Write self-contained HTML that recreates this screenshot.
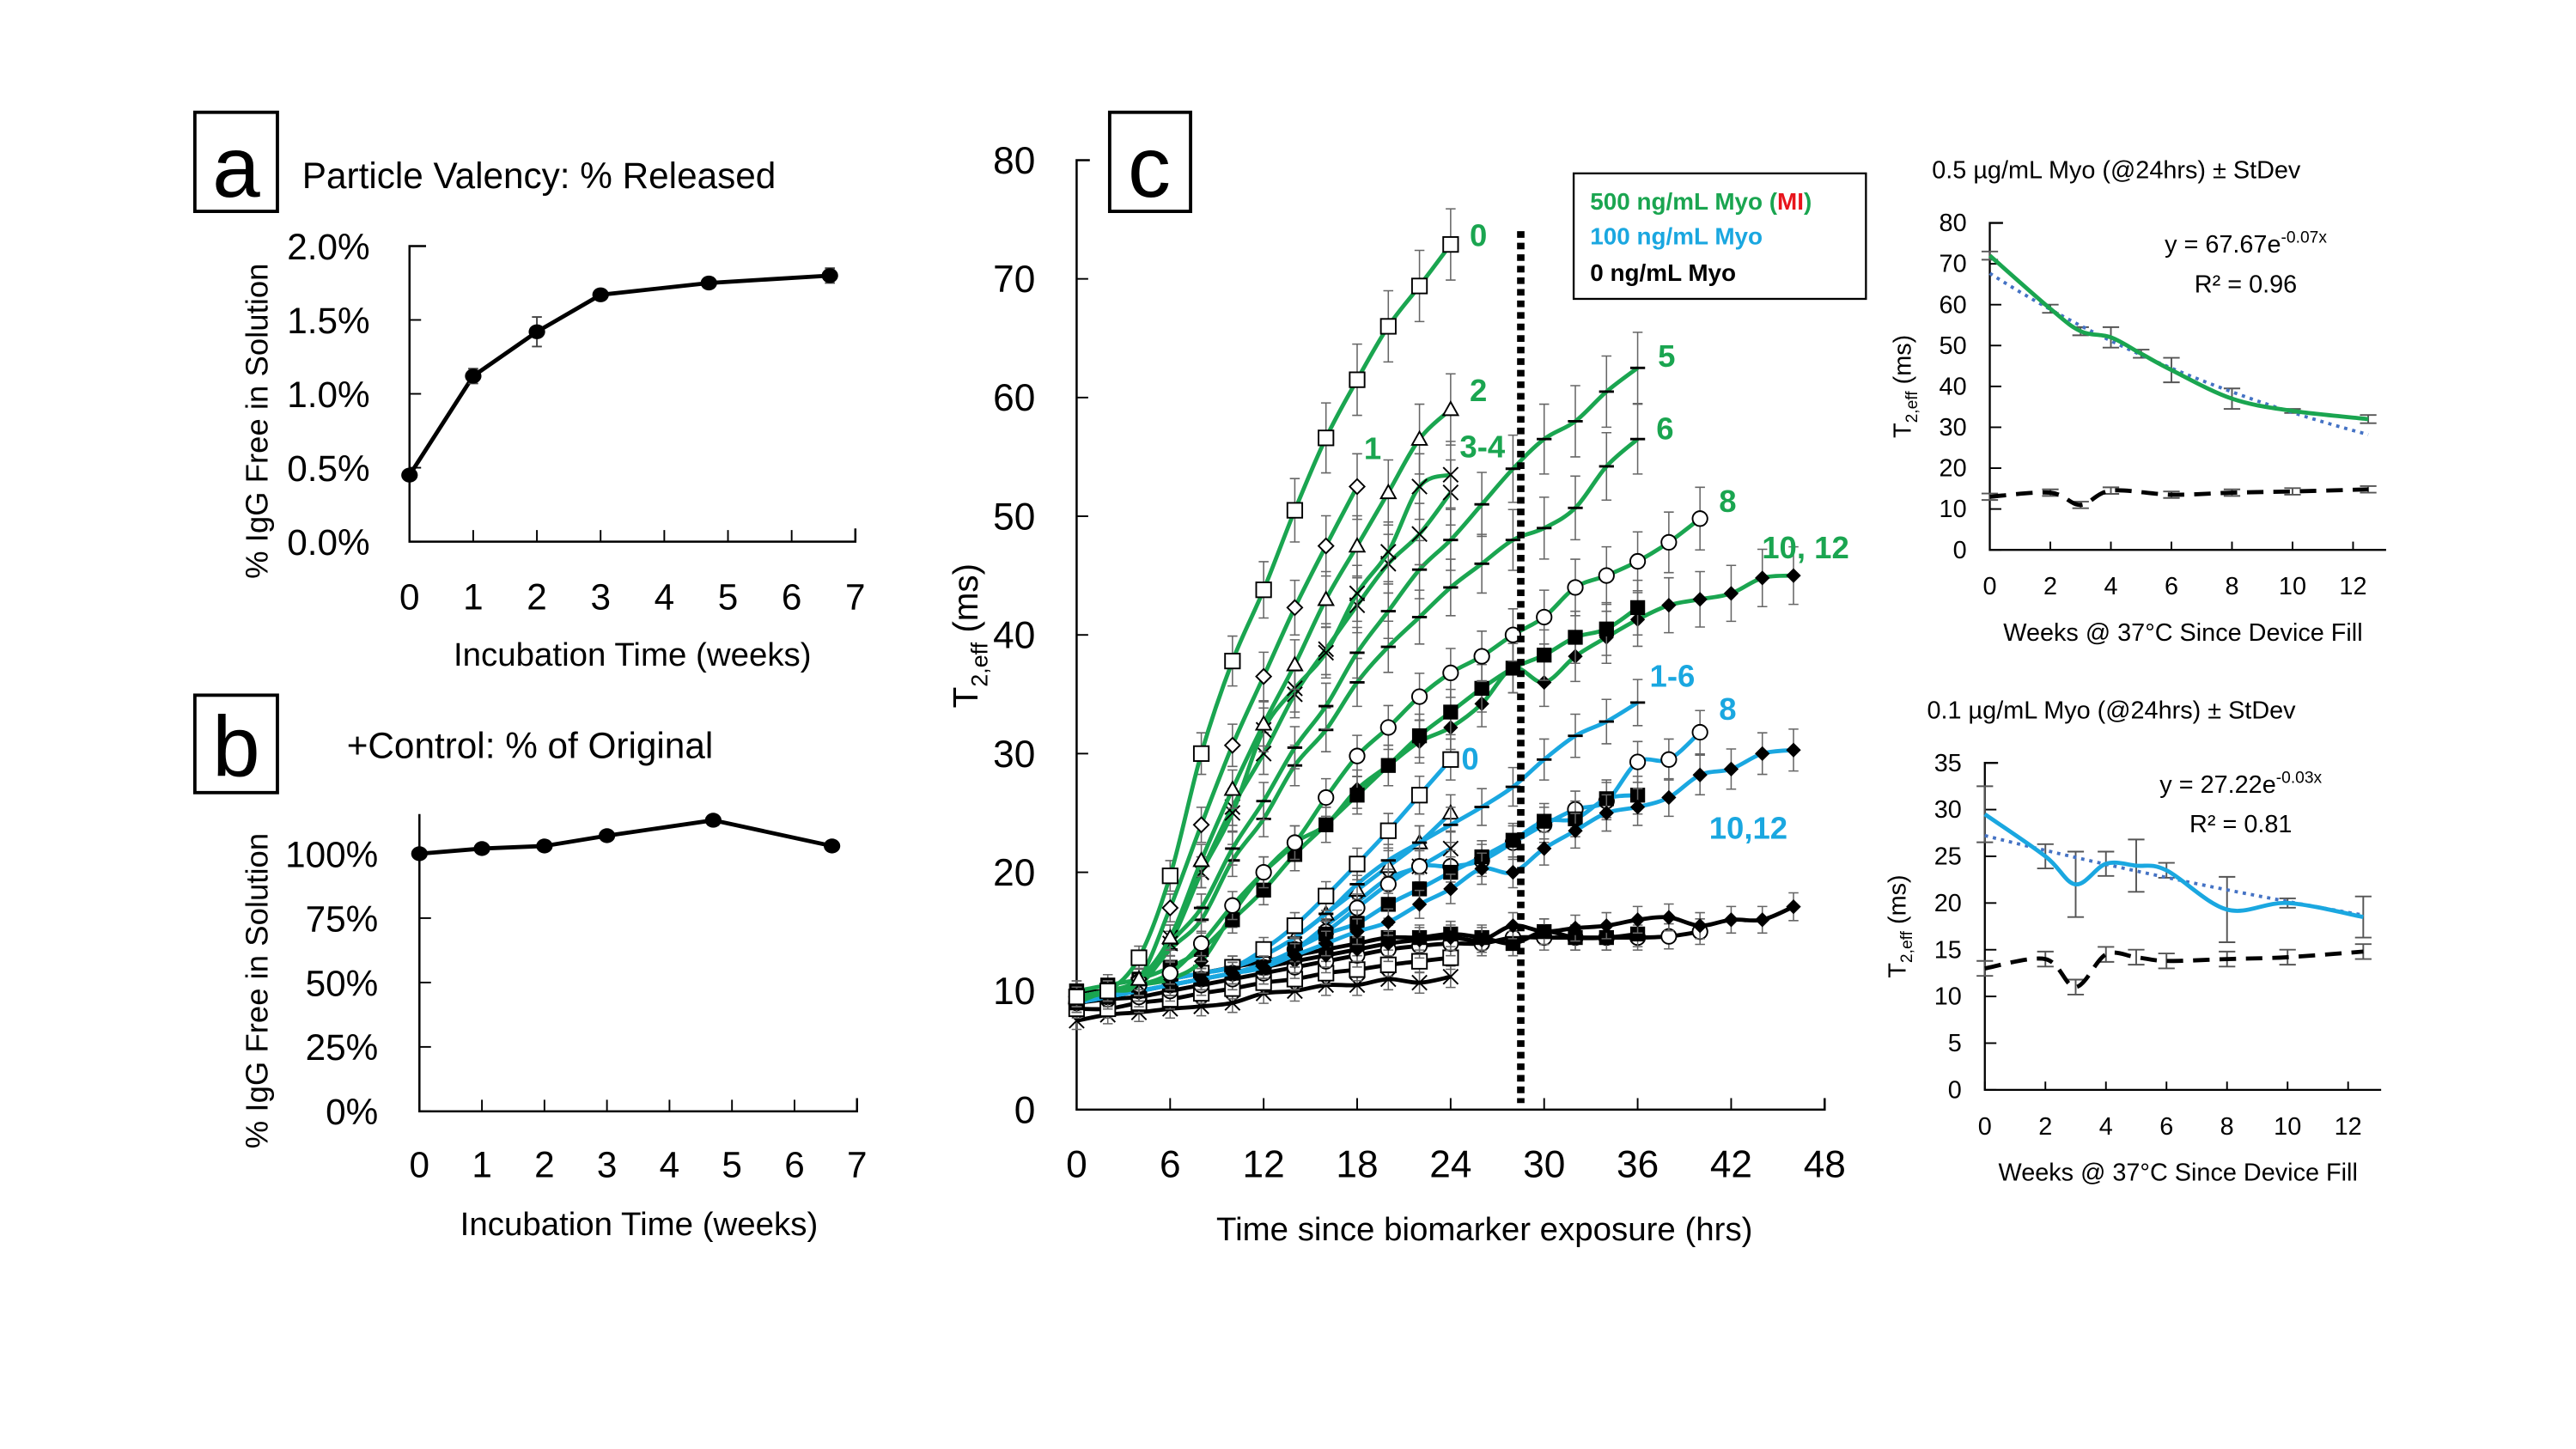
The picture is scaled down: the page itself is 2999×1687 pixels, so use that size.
<!DOCTYPE html>
<html><head><meta charset="utf-8"><style>
html,body{margin:0;padding:0;background:#fff}
svg{display:block}
text{font-family:"Liberation Sans","DejaVu Sans",sans-serif}
</style></head><body>
<svg id="fig" xmlns="http://www.w3.org/2000/svg" width="2999" height="1687" viewBox="0 0 1560 877.5" preserveAspectRatio="none">
<rect width="1560" height="877.5" fill="#fff"/>
<g id="gA"></g>
<g id="gB"></g>
<g id="gC"></g>
<g id="gD"></g>
<g id="gE"></g>
</svg>
<script>
// ---------- Panel a data ----------
const aWeeks=[0,1,2,3,4.7,6.6];
const aVals=[0.45,1.12,1.42,1.67,1.75,1.8];
const aErr=[0.03,0.05,0.1,0.03,0.03,0.05];
const aYTicks=["0.0%","0.5%","1.0%","1.5%","2.0%"];
const aXTicks=["0","1","2","3","4","5","6","7"];
// ---------- Panel b data ----------
const bWeeks=[0,1,2,3,4.7,6.6];
const bVals=[100,102,103,107,113,103];
const bYTicks=["0%","25%","50%","75%","100%"];
const bXTicks=["0","1","2","3","4","5","6","7"];
// ---------- Panel c data ----------
const cXTicks=["0","6","12","18","24","30","36","42","48"];
const cYTicks=["0","10","20","30","40","50","60","70","80"];
const hrs=[0,2,4,6,8,10,12,14,16,18,20,22,24,26,28,30,32,34,36,38,40,42,44,46];
const g0=[9.5,10,12.8,19.7,30,37.8,43.8,50.5,56.6,61.5,66,69.4,72.9];
const g2=[9.5,10,11,14.5,21,27,32.5,37.5,43,47.5,52,56.5,59];
const g1=[9.5,10,11,17,24,30.7,36.5,42.3,47.5,52.5];
const g3=[9.5,10,10.5,14.5,20,25,32,35.5,38.5,43.5,47,52.5,53.5];
const g4=[9.5,10,10.5,14,20,25.5,30,35,38.8,42.5,46,48.5,52];
const g5=[9.5,10,10.5,14,17,22,26,30.5,34,38.5,42,45.5,48,51,54,56.5,58,60.5,62.5];
const g6=[9.5,10,10.5,13.5,16,21,24.5,29,32,36,39,41.5,44,46,48,49,50.7,54.2,56.5];
const g8=[9.5,10,10.5,11.5,14,17.2,20,22.5,26.3,29.8,32.2,34.8,36.8,38.2,40,41.5,44,45,46.2,47.8,49.8];
const g10=[10,10.5,11,12,13.5,16,18.5,21.5,24,26.5,29,31.5,33.5,35.5,37.2,38.3,39.8,40.5,42.3];
const g12=[9,10,10.5,11,12.5,16.5,20,22.5,24,27,29,31,32.2,34.2,37.2,36,38.2,39.8,41.3,42.5,43,43.5,44.8,45];
const b0=[9.5,10,10.5,11,11.5,12,13.5,15.5,18,20.7,23.5,26.5,29.5];
const b1=[9.5,10,10.5,11,11.5,12,13,14.5,16.5,19,21,22.5,24,25.5,27.2,29.5,31.5,32.7,34.3];
const b2=[9.5,10,10.5,11,11.5,12,13,14.5,16.5,18.5,20.5,22.5,25];
const b3=[9.5,9.8,10,10.5,11,11.5,12.3,13.5,15.5,17.5,19.5,20.5,22];
const b8=[9,9.5,10,10.5,11,11.5,12,13.5,15,17,19,20.5,20.5,21,22.5,24,25.3,26,29.3,29.5,31.8];
const b10=[9,9.5,10,10.5,11,11.5,12,13.5,14.8,15.7,17.3,18.6,20,21.3,22.7,24.3,24.5,26.2,26.5];
const b12=[9,9.5,10,10.5,11,11.5,12,13,14,15,15.8,17.3,18.6,20.3,20,22,23.5,25,25.5,26.3,28.2,28.7,30,30.3];
const k0=[7.5,8,8.2,8.5,8.7,9,9.8,10,10.5,10.5,11,10.7,11.2];
const k1=[8.5,8.5,9,9.3,9.8,10.2,10.7,11,11.5,11.8,12.2,12.5,12.8];
const k2=[9.5,9.8,10,10.5,11,11.5,12,12.5,13,13.5,14,14.3,14.5,14.3,15.5,15,15.3,15.5,16,16.2,15.5,16,16,17.1];
const k3=[9,9.3,9.5,10,10.5,11,11.5,12,12.5,13,13.5,13.8,14,14,14.5,14.5,14.5,14.5,14.5,14.6,15];
const k4=[10,10,10.5,11,11.5,12,12.5,13,13.5,14,14.5,14.5,14.8,14.5,14,15,14.5,14.5,14.8];
// ---------- Right panels data ----------
const dXTicks=["0","2","4","6","8","10","12"];
const dYTicks=["0","10","20","30","40","50","60","70","80"];
const dWeeks=[0,2,3,4,5,6,8,10,12.5];
const dGreen=[72,59,53.5,52,48,44,37,34,32];
const dGreenErr=[1,1,1,2.5,1,3,2.5,0.5,1];
const dBlackW=[0,2,3,4,6,8,10,12.5];
const dBlack=[13,14,11,14.5,13.5,14,14.3,14.8];
const dFit=[67.67,-0.07];
const eXTicks=["0","2","4","6","8","10","12"];
const eYTicks=["0","5","10","15","20","25","30","35"];
const eWeeks=[0,2,3,4,5,6,8,10,12.5];
const eBlue=[29.5,25,22,24.2,24,23.5,19.3,20,18.5];
const eBlueErr=[3,1.3,3.5,1.3,2.8,0.8,3.5,0.5,2.2];
const eBlackW=[0,2,3,4,5,6,8,10,12.5];
const eBlack=[13,14,11,14.5,14.2,13.8,14,14.2,14.8];
const eFit=[27.22,-0.03];

const NS="http://www.w3.org/2000/svg";
function mk(parent,tag,attrs,txt){const e=document.createElementNS(NS,tag);for(const k in attrs)e.setAttribute(k,attrs[k]);if(txt!==undefined)e.textContent=txt;parent.appendChild(e);return e;}
function lin(d0,d1,r0,r1){return v=>r0+(v-d0)*(r1-r0)/(d1-d0);}
function smooth(pts){if(pts.length<2)return"";let d="M"+pts[0][0]+","+pts[0][1];for(let i=0;i<pts.length-1;i++){const p0=pts[i-1]||pts[i],p1=pts[i],p2=pts[i+1],p3=pts[i+2]||p2;const c1x=p1[0]+(p2[0]-p0[0])/6,c1y=p1[1]+(p2[1]-p0[1])/6,c2x=p2[0]-(p3[0]-p1[0])/6,c2y=p2[1]-(p3[1]-p1[1])/6;d+=` C${c1x},${c1y} ${c2x},${c2y} ${p2[0]},${p2[1]}`;}return d;}

// ---------- Panel a ----------
(function(){
const g=document.getElementById('gA');
const x=lin(0,7,248,518), y=lin(0,2,328,149);
let e=mk(g,'rect',{x:118,y:68,width:50,height:60,fill:'none',stroke:'#000','stroke-width':2});

e=mk(g,'text',{x:143,y:119,'font-size':52,'text-anchor':'middle'},'a');

e=mk(g,'text',{x:183,y:114,'font-size':22},'Particle Valency: % Released');

mk(g,'path',{d:`M${x(0)+10},${y(2)} H${x(0)} V${y(0)} H${x(7)} v-8`,fill:'none',stroke:'#000','stroke-width':1.3});
aXTicks.forEach((t,i)=>{mk(g,'line',{x1:x(i),x2:x(i),y1:y(0),y2:y(0)-7,stroke:'#000'});
 e=mk(g,'text',{x:x(i),y:369,'font-size':22,'text-anchor':'middle'},t);});
aYTicks.forEach((t,i)=>{const v=i*0.5;mk(g,'line',{x1:x(0),x2:x(0)+7,y1:y(v),y2:y(v),stroke:'#000'});
 e=mk(g,'text',{x:224,y:y(v)+8,'font-size':22,'text-anchor':'end'},t);});
e=mk(g,'text',{x:383,y:403,'font-size':20,'text-anchor':'middle'},'Incubation Time (weeks)');
e=mk(g,'text',{x:0,y:0,'font-size':19,'text-anchor':'middle',transform:'translate(162,255) rotate(-90)'},'% IgG Free in Solution');
const pts=aWeeks.map((w,i)=>[x(w),y(aVals[i])]);
e=mk(g,'polyline',{points:pts.map(p=>p.join(',')).join(' '),fill:'none',stroke:'#000','stroke-width':2.5});
aWeeks.forEach((w,i)=>{mk(g,'path',{d:`M${x(w)-3},${y(aVals[i]-aErr[i])}h6M${x(w)},${y(aVals[i]-aErr[i])}V${y(aVals[i]+aErr[i])}M${x(w)-3},${y(aVals[i]+aErr[i])}h6`,stroke:'#444','stroke-width':1});
 e=mk(g,'ellipse',{cx:x(w),cy:y(aVals[i]),rx:5,ry:4.5,fill:'#000'});});
})();

// ---------- Panel b ----------
(function(){
const g=document.getElementById('gB');
const x=lin(0,7,254,519), y=lin(0,100,673,517);
let e=mk(g,'rect',{x:118,y:421,width:50,height:59,fill:'none',stroke:'#000','stroke-width':2});

e=mk(g,'text',{x:143,y:470,'font-size':52,'text-anchor':'middle'},'b');

e=mk(g,'text',{x:210,y:459,'font-size':22},'+Control: % of Original');

mk(g,'path',{d:`M${x(0)},493 V${y(0)} H${x(7)} v-8`,fill:'none',stroke:'#000','stroke-width':1.3});
bXTicks.forEach((t,i)=>{mk(g,'line',{x1:x(i),x2:x(i),y1:y(0),y2:y(0)-7,stroke:'#000'});
 e=mk(g,'text',{x:x(i),y:713,'font-size':22,'text-anchor':'middle'},t);});
bYTicks.forEach((t,i)=>{const v=i*25;mk(g,'line',{x1:x(0),x2:x(0)+7,y1:y(v),y2:y(v),stroke:'#000'});
 e=mk(g,'text',{x:229,y:y(v)+8,'font-size':22,'text-anchor':'end'},t);});
e=mk(g,'text',{x:387,y:748,'font-size':20,'text-anchor':'middle'},'Incubation Time (weeks)');
e=mk(g,'text',{x:0,y:0,'font-size':19,'text-anchor':'middle',transform:'translate(162,600) rotate(-90)'},'% IgG Free in Solution');
const pts=bWeeks.map((w,i)=>[x(w),y(bVals[i])]);
e=mk(g,'polyline',{points:pts.map(p=>p.join(',')).join(' '),fill:'none',stroke:'#000','stroke-width':2.5});
bWeeks.forEach((w,i)=>{e=mk(g,'ellipse',{cx:x(w),cy:y(bVals[i]),rx:5,ry:4.5,fill:'#000'});});
})();

// ---------- Panel c ----------
(function(){
const g=document.getElementById('gC');
const x=lin(0,48,652,1105), y=lin(0,80,672,97);
let e=mk(g,'rect',{x:672,y:68,width:49,height:60,fill:'none',stroke:'#000','stroke-width':2});

e=mk(g,'text',{x:696,y:119,'font-size':52,'text-anchor':'middle'},'c');

mk(g,'path',{d:`M${x(0)+8},${y(80)} H${x(0)} V${y(0)} H${x(48)} v-7`,fill:'none',stroke:'#000','stroke-width':1.3});
cXTicks.forEach((t,i)=>{const v=i*6;mk(g,'line',{x1:x(v),x2:x(v),y1:y(0),y2:y(0)-7,stroke:'#000'});
 e=mk(g,'text',{x:x(v),y:713,'font-size':23,'text-anchor':'middle'},t);});
cYTicks.forEach((t,i)=>{const v=i*10;mk(g,'line',{x1:x(0),x2:x(0)+7,y1:y(v),y2:y(v),stroke:'#000'});
 e=mk(g,'text',{x:627,y:y(v)+8,'font-size':23,'text-anchor':'end'},t);});
e=mk(g,'text',{x:899,y:751,'font-size':20,'text-anchor':'middle'},'Time since biomarker exposure (hrs)');
e=mk(g,'text',{x:0,y:0,'font-size':21,'text-anchor':'middle',transform:'translate(592,385) rotate(-90)'});
e.innerHTML='T<tspan font-size="14" dy="6">2,eff</tspan><tspan dy="-6"> (ms)</tspan>';
const GREEN='#1aa550',BLUE='#1aa7e0';
function marker(t,cx,cy){const s=4.5;
 if(t==='sq')return mk(g,'rect',{x:cx-s,y:cy-s,width:2*s,height:2*s,fill:'#fff',stroke:'#000','stroke-width':1});
 if(t==='fsq')return mk(g,'rect',{x:cx-s,y:cy-s,width:2*s,height:2*s,fill:'#000'});
 if(t==='tri')return mk(g,'path',{d:`M${cx},${cy-s}L${cx+s},${cy+s-1}L${cx-s},${cy+s-1}Z`,fill:'#fff',stroke:'#000','stroke-width':1});
 if(t==='dia')return mk(g,'path',{d:`M${cx},${cy-s}L${cx+s},${cy}L${cx},${cy+s}L${cx-s},${cy}Z`,fill:'#fff',stroke:'#000','stroke-width':1});
 if(t==='fdia')return mk(g,'path',{d:`M${cx},${cy-s}L${cx+s},${cy}L${cx},${cy+s}L${cx-s},${cy}Z`,fill:'#000'});
 if(t==='x')return mk(g,'path',{d:`M${cx-s},${cy-s}L${cx+s},${cy+s}M${cx+s},${cy-s}L${cx-s},${cy+s}`,stroke:'#000','stroke-width':1});
 if(t==='circ')return mk(g,'circle',{cx,cy,r:s,fill:'#fff',stroke:'#000','stroke-width':1});
 if(t==='dash')return mk(g,'line',{x1:cx-s,x2:cx+s,y1:cy,y2:cy,stroke:'#000','stroke-width':1.5});
}
function series(vals,color,m,name){
 const pts=vals.map((v,i)=>[x(hrs[i]),y(v)]);
 vals.forEach((v,i)=>{const er=Math.min(3,0.4+v*0.045);const cx=x(hrs[i]);
  mk(g,'path',{d:`M${cx-3},${y(v-er)}h6M${cx},${y(v-er)}V${y(v+er)}M${cx-3},${y(v+er)}h6`,stroke:'#666','stroke-width':0.8});});
 let p=mk(g,'path',{d:smooth(pts),fill:'none',stroke:color,'stroke-width':2.5});
 
 pts.forEach(q=>{const mm=marker(m,q[0],q[1]);});
}
series(k0,'#000','x','ctrl-week-2');series(k1,'#000','sq','ctrl-week-0');series(k3,'#000','circ','ctrl-week-8');
series(k4,'#000','fsq','ctrl-week-10');series(k2,'#000','fdia','ctrl-week-12');
series(b3,BLUE,'x','low-week-3');series(b2,BLUE,'tri','low-week-2');series(b1,BLUE,'dash','low-week-1-6');
series(b0,BLUE,'sq','low-week-0');series(b8,BLUE,'circ','low-week-8');series(b10,BLUE,'fsq','low-week-10');series(b12,BLUE,'fdia','low-week-12');
series(g12,GREEN,'fdia','high-week-12');series(g10,GREEN,'fsq','high-week-10');series(g8,GREEN,'circ','high-week-8');
series(g6,GREEN,'dash','high-week-6');series(g5,GREEN,'dash','high-week-5');series(g4,GREEN,'x','high-week-4');
series(g3,GREEN,'x','high-week-3');series(g1,GREEN,'dia','high-week-1');series(g2,GREEN,'tri','high-week-2');series(g0,GREEN,'sq','high-week-0');
e=mk(g,'line',{x1:x(28.5),x2:x(28.5),y1:140,y2:668,stroke:'#000','stroke-width':4.5,'stroke-dasharray':'4,3'});

const labs=[[890,149,'0',GREEN],[890,243,'2',GREEN],[826,278,'1',GREEN],[884,277,'3-4',GREEN],[1004,222,'5',GREEN],[1003,266,'6',GREEN],[1041,310,'8',GREEN],[1067,338,'10, 12',GREEN],[999,416,'1-6',BLUE],[1041,436,'8',BLUE],[885,466,'0',BLUE],[1035,508,'10,12',BLUE]];
labs.forEach(l=>{e=mk(g,'text',{x:l[0],y:l[1],'font-size':19,'font-weight':'bold',fill:l[3]},l[2]);});
const lg=mk(g,'g',{});
mk(lg,'rect',{x:953,y:105,width:177,height:76,fill:'#fff',stroke:'#000','stroke-width':1.2});
e=mk(lg,'text',{x:963,y:127,'font-size':14.5,'font-weight':'bold',fill:GREEN});e.innerHTML='500 ng/mL Myo (<tspan fill="#e8141c">MI</tspan>)';
e=mk(lg,'text',{x:963,y:148,'font-size':14.5,'font-weight':'bold',fill:BLUE},'100 ng/mL Myo');
e=mk(lg,'text',{x:963,y:170,'font-size':14.5,'font-weight':'bold',fill:'#000'},'0 ng/mL Myo');
})();

// ---------- Right panels ----------
function rightPanel(id,o){
 const g=document.getElementById(id);
 const x=lin(0,12,o.x0,o.x12), y=lin(0,o.ymax,o.yb,o.yt);
 let e=mk(g,'text',{x:o.tx,y:o.ty,'font-size':15},o.title);
 mk(g,'path',{d:`M${o.x0+8},${o.yt} H${o.x0} V${o.yb} H${o.x0+240}`,fill:'none',stroke:'#000','stroke-width':1.2});
 o.xt.forEach((t,i)=>{const v=i*2;mk(g,'line',{x1:x(v),x2:x(v),y1:o.yb,y2:o.yb-5,stroke:'#000'});
  e=mk(g,'text',{x:x(v),y:o.yb+27,'font-size':15,'text-anchor':'middle'},t);});
 o.yt_.forEach((t,i)=>{const v=i*o.step;mk(g,'line',{x1:o.x0,x2:o.x0+7,y1:y(v),y2:y(v),stroke:'#000'});
  e=mk(g,'text',{x:o.x0-14,y:y(v)+5,'font-size':15,'text-anchor':'end'},t);});
 e=mk(g,'text',{x:o.x0+117,y:o.yb+55,'font-size':15,'text-anchor':'middle'},'Weeks @ 37°C Since Device Fill');
 e=mk(g,'text',{x:0,y:0,'font-size':15,'text-anchor':'middle',transform:`translate(${o.x0-48},${(o.yb+o.yt)/2}) rotate(-90)`});
 e.innerHTML='T<tspan font-size="10" dy="4">2,eff</tspan><tspan dy="-4"> (ms)</tspan>';
 e=mk(g,'text',{x:o.x0+155,y:o.yt+18,'font-size':15,'text-anchor':'middle'});e.innerHTML=`y = ${o.fit[0]}e<tspan font-size="10" dy="-6">${o.fit[1].toFixed(2)}x</tspan>`;
 e=mk(g,'text',{x:o.x0+155,y:o.yt+42,'font-size':15,'text-anchor':'middle'},'R² = '+o.r2);
 o.w.forEach((w,i)=>{const v=o.v[i],er=o.err[i];mk(g,'path',{d:`M${x(w)-5},${y(v-er)}h10M${x(w)},${y(v-er)}V${y(v+er)}M${x(w)-5},${y(v+er)}h10`,stroke:'#555','stroke-width':1});});
 o.kw.forEach((w,i)=>{const v=o.k[i],er=0.8;mk(g,'path',{d:`M${x(w)-5},${y(v-er)}h10M${x(w)},${y(v-er)}V${y(v+er)}M${x(w)-5},${y(v+er)}h10`,stroke:'#555','stroke-width':1});});
 const fp=[];for(let i=0;i<=25;i++){const w=i*0.5;fp.push([x(w),y(o.fit[0]*Math.exp(o.fit[1]*w))]);}
 e=mk(g,'polyline',{points:fp.map(p=>p.join(',')).join(' '),fill:'none',stroke:'#4472c4','stroke-width':2,'stroke-dasharray':'2,3'});
 e=mk(g,'path',{d:smooth(o.w.map((w,i)=>[x(w),y(o.v[i])])),fill:'none',stroke:o.col,'stroke-width':2.5});
 e=mk(g,'path',{d:smooth(o.kw.map((w,i)=>[x(w),y(o.k[i])])),fill:'none',stroke:'#000','stroke-width':2.5,'stroke-dasharray':'10,6'});
}
rightPanel('gD',{x0:1205,x12:1425,yb:333,yt:135,ymax:80,step:10,tx:1170,ty:108,title:'0.5 µg/mL Myo (@24hrs) ± StDev',xt:dXTicks,yt_:dYTicks,w:dWeeks,v:dGreen,err:dGreenErr,kw:dBlackW,k:dBlack,fit:dFit,r2:'0.96',col:'#1aa550'});
rightPanel('gE',{x0:1202,x12:1422,yb:660,yt:462,ymax:35,step:5,tx:1167,ty:435,title:'0.1 µg/mL Myo (@24hrs) ± StDev',xt:eXTicks,yt_:eYTicks,w:eWeeks,v:eBlue,err:eBlueErr,kw:eBlackW,k:eBlack,fit:eFit,r2:'0.81',col:'#1aa7e0'});
</script>
</body></html>
